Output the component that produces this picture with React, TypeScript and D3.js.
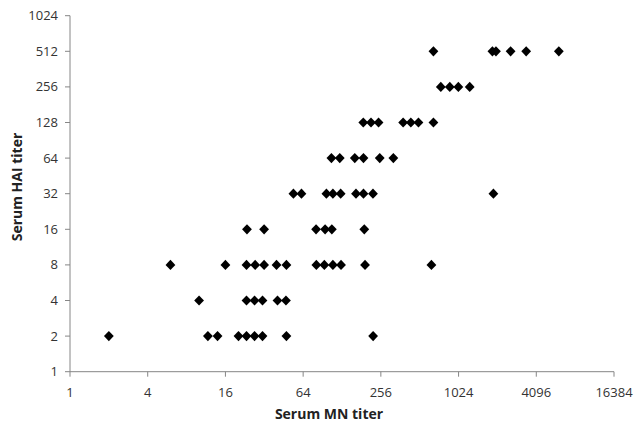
import React from "react";
import * as d3 from "d3";

const xTicks = [1, 4, 16, 64, 256, 1024, 4096, 16384];
const yTicks = [1, 2, 4, 8, 16, 32, 64, 128, 256, 512, 1024];

// Serum MN titers of the points at each serum HAI titer
const mnAtHai2 = [2, 11.7, 13.9, 20.2, 23.3, 26.9, 31, 47.5, 223];
const mnAtHai4 = [10, 23.3, 26.9, 31, 40.5, 47.1];
const mnAtHai8 = [6, 16, 23.3, 27.2, 31.9, 39.8, 47.5, 81, 93.4, 108.8, 125.8, 193, 631];
const mnAtHai16 = [23.5, 31.9, 80.6, 94.7, 106.8, 190.5];
const mnAtHai32 = [53.8, 62.1, 96.9, 108.8, 125, 164.3, 187.8, 222.4, 1906];
const mnAtHai64 = [106, 123, 160.8, 187.8, 251, 320];
const mnAtHai128 = [187.1, 214.7, 245.7, 381, 437, 500.6, 654];
const mnAtHai256 = [746, 875.7, 1020, 1249];
const mnAtHai512 = [654, 1873, 1995, 2591, 3421, 6124];

const haiLevels = [2, 4, 8, 16, 32, 64, 128, 256, 512];
const mnByLevel = [mnAtHai2, mnAtHai4, mnAtHai8, mnAtHai16, mnAtHai32, mnAtHai64, mnAtHai128, mnAtHai256, mnAtHai512];

const points = haiLevels.flatMap((h, i) => mnByLevel[i].map((m) => ({ mn: m, hai: h })));

export default function App() {
  const W = 634, H = 425;
  const left = 70, right = 614, top = 15.7, bottom = 371.7;
  const x = d3.scaleLog().base(2).domain([1, 16384]).range([left, right]);
  const y = d3.scaleLog().base(2).domain([1, 1024]).range([bottom, top]);
  const axisColor = "#868686";
  const font = "'Open Sans', 'Liberation Sans', sans-serif";
  const diamond = (cx: number, cy: number) => {
    const rx = 4.9, ry = 5.1;
    return `M${cx},${cy - ry}L${cx + rx},${cy}L${cx},${cy + ry}L${cx - rx},${cy}Z`;
  };
  return (
    <svg width={W} height={H} style={{ position: "absolute", left: 0, top: 0, background: "#fff" }}>
      <line x1={left} x2={left} y1={top} y2={bottom} stroke={axisColor} strokeWidth={1} />
      <line x1={left} x2={right} y1={bottom} y2={bottom} stroke={axisColor} strokeWidth={1} />
      {yTicks.map((t) => (
        <g key={"y" + t}>
          <line x1={left - 5} x2={left} y1={y(t)} y2={y(t)} stroke={axisColor} />
          <text x={left - 12} y={y(t)} dy="0.35em" textAnchor="end" fontFamily={font} fontSize={13} fill="#333">{t}</text>
        </g>
      ))}
      {xTicks.map((t) => (
        <g key={"x" + t}>
          <line x1={x(t)} x2={x(t)} y1={bottom} y2={bottom + 5} stroke={axisColor} />
          <text x={x(t)} y={bottom + 25} textAnchor="middle" fontFamily={font} fontSize={13} fill="#333">{t}</text>
        </g>
      ))}
      {points.map((p, i) => (
        <path key={i} d={diamond(x(p.mn), y(p.hai))} fill="#000" />
      ))}
      <text x={329} y={419} textAnchor="middle" fontFamily={font} fontSize={14} fontWeight="bold" fill="#222">Serum MN titer</text>
      <text transform={`translate(22,187) rotate(-90)`} textAnchor="middle" fontFamily={font} fontSize={14} fontWeight="bold" fill="#222">Serum HAI titer</text>
    </svg>
  );
}
